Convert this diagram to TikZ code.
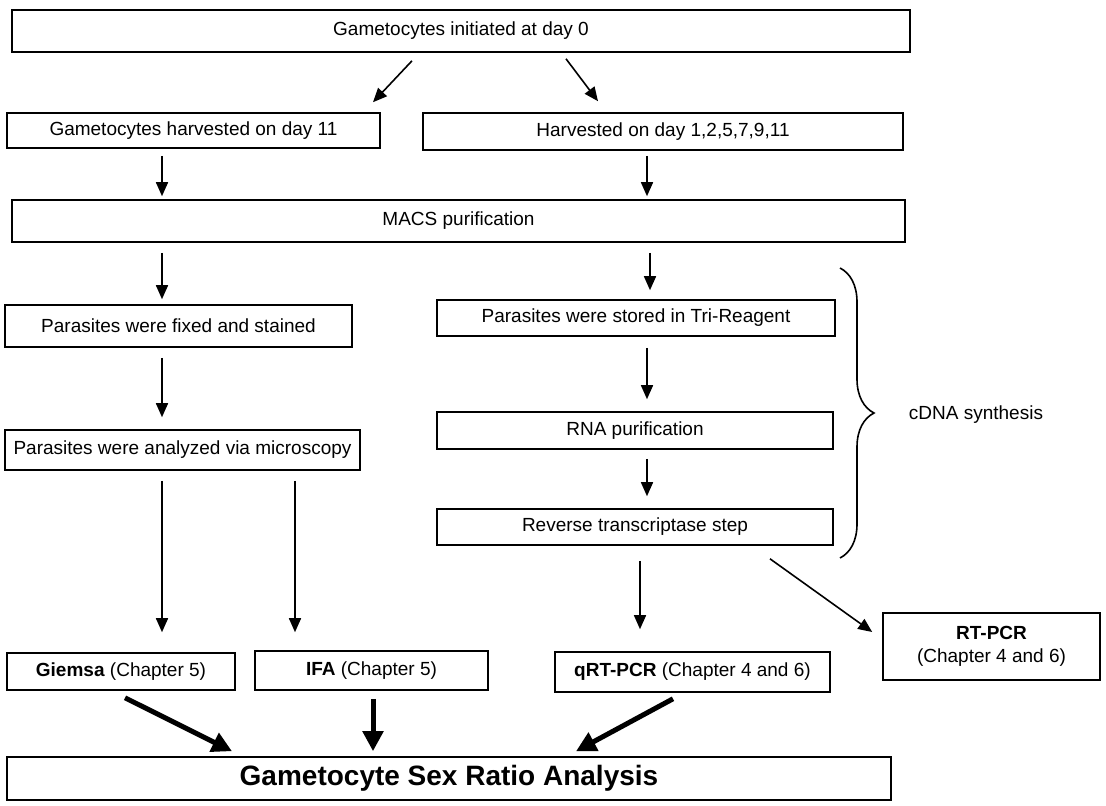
\documentclass[tikz,border=0pt]{standalone}
\usepackage{fontspec}
\setmainfont{Liberation Sans}
\usetikzlibrary{arrows.meta,calc,decorations.pathreplacing}
\begin{document}
\begin{tikzpicture}[x=1pt,y=-1pt,
  box/.style={draw,line width=1.6pt,inner sep=0pt,align=center,font=\fontsize{19}{23}\selectfont},
  arr/.style={line width=1.6pt,-{Triangle[length=14pt,width=12pt]}},
  thick arr/.style={line width=5pt,-{Triangle[length=20pt,width=20pt]}}]
\useasboundingbox (0,0) rectangle (1106,806);
\node[box,minimum width=898,minimum height=42] (top) at (461,31) {Gametocytes initiated at day 0};
\node[box,minimum width=373,minimum height=35] (h11) at (193.5,130.5) {Gametocytes harvested on day 11};
\node[box,minimum width=480,minimum height=37] (hdays) at (663,131.5) {Harvested on day 1,2,5,7,9,11};
\node[box,minimum width=893,minimum height=42] (macs) at (458.5,221) {MACS purification};
\node[box,minimum width=347,minimum height=42] (fixed) at (178.5,326) {Parasites were fixed and stained};
\node[box,minimum width=398,minimum height=36] (stored) at (636,318) {Parasites were stored in Tri-Reagent};
\node[box,minimum width=396,minimum height=37] (rna) at (635,430.5) {RNA purification};
\node[box,minimum width=355,minimum height=40] (analyzed) at (182.5,450) {Parasites were analyzed via microscopy};
\node[box,minimum width=396,minimum height=36] (rts) at (635,527) {Reverse transcriptase step};
\node[box,minimum width=228,minimum height=37] (giemsa) at (121,671.5) {\textbf{Giemsa} (Chapter 5)};
\node[box,minimum width=233,minimum height=39] (ifa) at (371.5,670.5) {\textbf{IFA} (Chapter 5)};
\node[box,minimum width=275,minimum height=40] (qrt) at (692.5,672) {\textbf{qRT-PCR} (Chapter 4 and 6)};
\node[box,minimum width=217,minimum height=67] (rtpcr) at (991.5,646.5) {\textbf{RT-PCR}\\(Chapter 4 and 6)};
\node[box,minimum width=884,minimum height=43,font=\fontsize{28}{32}\selectfont\bfseries] (final) at (449,778.5) {Gametocyte Sex Ratio Analysis};
\node[font=\fontsize{19}{23}\selectfont] (cdna) at (976,415) {cDNA synthesis};
% brace
\draw[line width=1.6pt,decorate,decoration={brace,amplitude=34pt,aspect=0.5}] (840,268) -- (840,558);
% thin arrows
\draw[arr] ($(top.south)+(-49,8)$) -- ($(h11.north)+(179.5,-10)$);
\draw[arr] ($(top.south)+(105,6)$) -- ($(hdays.north)+(-65,-11)$);
\draw[arr] ($(h11.south)+(-31.5,7)$) -- ($(macs.north)+(-296.5,-3)$);
\draw[arr] ($(hdays.south)+(-16,5)$) -- ($(macs.north)+(188.5,-3)$);
\draw[arr] ($(macs.south)+(-296.5,10)$) -- ($(fixed.north)+(-16.5,-5)$);
\draw[arr] ($(macs.south)+(191.5,10)$) -- ($(stored.north)+(14,-9)$);
\draw[arr] ($(fixed.south)+(-16.5,10)$) -- ($(analyzed.north)+(-20.5,-12)$);
\draw[arr] ($(stored.south)+(11,11)$) -- ($(rna.north)+(12,-12)$);
\draw[arr] ($(rna.south)+(12,9)$) -- ($(rts.north)+(12,-12)$);
\draw[arr] ($(analyzed.south)+(-20.5,10)$) -- ($(giemsa.north)+(41,-20)$);
\draw[arr] ($(analyzed.south)+(112.5,10)$) -- ($(ifa.north)+(-76.5,-18)$);
\draw[arr] ($(rts.south)+(5,15)$) -- ($(qrt.north)+(-52.5,-22)$);
\draw[arr] ($(rts.south)+(135,13)$) -- ($(rtpcr.west)+(-10,-14.5)$);
% thick arrows
\draw[thick arr] ($(giemsa.south)+(4,7)$) -- ($(final.north)+(-217,-5)$);
\draw[thick arr] ($(ifa.south)+(1.5,8)$) -- ($(final.north)+(-76,-5)$);
\draw[thick arr] ($(qrt.south)+(-19.5,6)$) -- ($(final.north)+(127,-5)$);
\end{tikzpicture}
\end{document}
